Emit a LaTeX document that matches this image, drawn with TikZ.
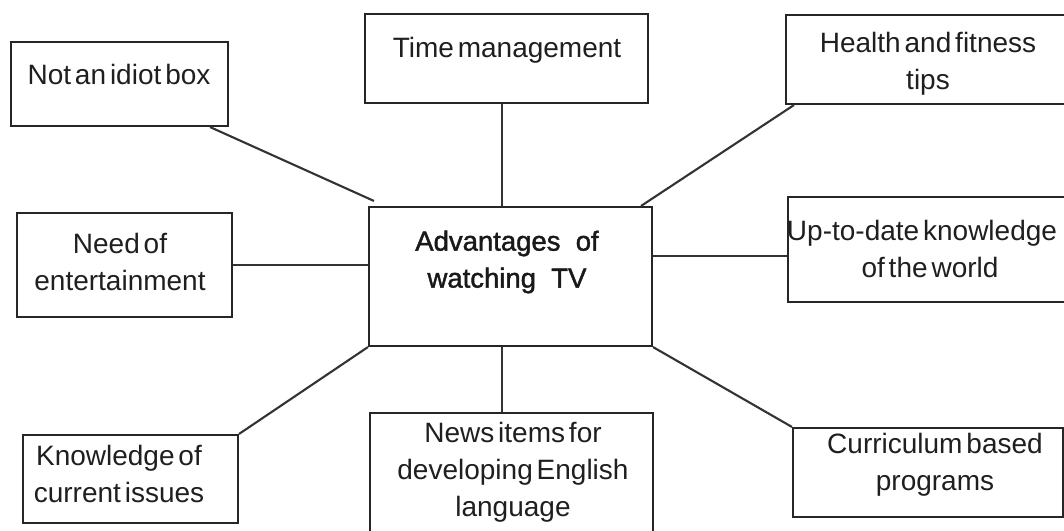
\documentclass[tikz,border=0pt]{standalone}
\usepackage{fontspec}
\setmainfont{Liberation Sans}[WordSpace=0.5]
\newfontfamily\ctrfont{Liberation Sans}[FakeBold=1.5]
\usetikzlibrary{calc}
\tikzset{
  box/.style={draw=black!85, line width=2.1pt, rectangle, inner sep=0pt},
  lbl/.style={font=\fontsize{28}{37}\selectfont, align=center, inner sep=0pt, text=black!88},
  ctr/.style={font=\ctrfont\fontsize{27.5}{37}\selectfont, align=center, inner sep=0pt, text=black!90},
  link/.style={draw=black!80, line width=2.1pt},
}
\begin{document}
\begin{tikzpicture}[x=1pt,y=-1pt]
\useasboundingbox (0,0) rectangle (1064,530);
\fill[white] (0,0) rectangle (1064,530);
\clip (0,0) rectangle (1064,530);

% boxes
\node[box, minimum width=217pt, minimum height=84pt] (idiot) at (119.5,84) {};
\node[box, minimum width=283pt, minimum height=89pt] (time) at (506.5,58.5) {};
\node[box, minimum width=289pt, minimum height=89pt] (health) at (930.5,59.5) {};
\node[box, minimum width=283pt, minimum height=139pt] (center) at (510.5,276.5) {};
\node[box, minimum width=215pt, minimum height=104pt] (need) at (124.5,265) {};
\node[box, minimum width=287pt, minimum height=105pt] (update) at (931.5,249.5) {};
\node[box, minimum width=215pt, minimum height=88pt] (issues) at (130.5,479) {};
\node[box, minimum width=283pt, minimum height=127pt] (news) at (511.5,476.5) {};
\node[box, minimum width=270pt, minimum height=89pt] (curric) at (928,472.5) {};

% texts
\node[lbl] (tidiot) at (119,74) {Not an idiot box};
\node[lbl] (ttime) at (507,50) {Time management};
\node[lbl] (thealth) at (928,64) {Health and fitness\\tips};
\node[ctr] (tcenter) at (507,262) {Advantages~~of\\watching~~TV};
\node[lbl] (tneed) at (120,262) {Need of\\entertainment};
\node[lbl] (tupdate) at (922,249) {Up-to-date knowledge\\\hspace*{16pt}of the world};
\node[lbl] (tissues) at (119,474) {Knowledge of\\current issues};
\node[lbl] (tnews) at (513,472) {News items for\\developing English\\language};
\node[lbl] (tcurric) at (935,465) {Curriculum based\\programs};

% connectors
\coordinate (vx) at (502,0);
\coordinate (hy) at (0,256);
\draw[link] ($(idiot.south east)+(-19,0)$) -- ($(center.north west)+(6,-5)$);
\draw[link] (time.south -| vx) -- (center.north -| vx);
\draw[link] ($(center.north east)+(-12,0)$) -- ($(health.south west)+(9,0)$);
\draw[link] (need.east) -- (need.east -| center.west);
\draw[link] (center.east |- hy) -- (update.west |- hy);
\draw[link] (issues.north east) -- (center.south west);
\draw[link] (center.south -| vx) -- (news.north -| vx);
\draw[link] (center.south east) -- (curric.north west);
\end{tikzpicture}
\end{document}
